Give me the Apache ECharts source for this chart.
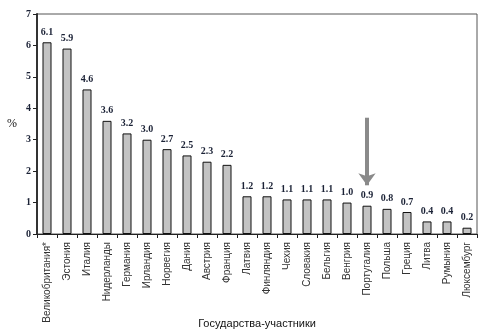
<!DOCTYPE html>
<html>
<head>
<meta charset="utf-8">
<script src="https://cdn.jsdelivr.net/npm/echarts@6/dist/echarts.min.js"></script>
<style>
html, body { margin: 0; padding: 0; background: #fff; }
#main { width: 493px; height: 330px; }
</style>
</head>
<body>
<div id="main"></div>
<script>
// страны и значения, %
var countries = ['Великобритания*', 'Эстония', 'Италия', 'Нидерланды', 'Германия', 'Ирландия',
    'Норвегия', 'Дания', 'Австрия', 'Франция', 'Латвия', 'Финляндия', 'Чехия', 'Словакия',
    'Бельгия', 'Венгрия', 'Португалия', 'Польша', 'Греция', 'Литва', 'Румыния', 'Люксембург'];
var values = [6.1, 5.9, 4.6, 3.6, 3.2, 3.0, 2.7, 2.5, 2.3, 2.2, 1.2, 1.2, 1.1, 1.1, 1.1, 1.0, 0.9, 0.8, 0.7, 0.4, 0.4, 0.2];
var yTicks = [0, 1, 2, 3, 4, 5, 6, 7];
// стрелка над Португалией
var arrowTarget = 'Португалия';
var arrowFrom = 3.7;
var arrowTo = 1.55;

var myChart = echarts.init(document.getElementById('main'));
var option = {
    animation: false,
    grid: {
        left: 37,
        right: 16,
        top: 14,
        bottom: 96,
        outerBoundsMode: 'none',
        containLabel: false,
        show: true,
        borderColor: '#555',
        borderWidth: 1
    },
    xAxis: {
        type: 'category',
        data: countries,
        name: 'Государства-участники',
        nameLocation: 'middle',
        nameGap: 84,
        nameMoveOverlap: false,
        nameTextStyle: { fontFamily: 'Liberation Sans', fontSize: 11, color: '#111' },
        axisLine: { lineStyle: { color: '#222', width: 1 } },
        axisTick: { show: true, length: 4, lineStyle: { color: '#222' } },
        axisLabel: {
            rotate: 90,
            interval: 0,
            fontFamily: 'Liberation Sans',
            fontSize: 10,
            color: '#333',
            margin: 8
        }
    },
    yAxis: {
        type: 'value',
        min: yTicks[0],
        max: yTicks[yTicks.length - 1],
        interval: 1,
        name: '%',
        nameLocation: 'middle',
        nameRotate: 0,
        nameGap: 20,
        nameTextStyle: { fontFamily: 'Liberation Serif', fontSize: 12, color: '#111' },
        splitLine: { show: false },
        axisLine: { show: true, lineStyle: { color: '#333', width: 2 } },
        axisTick: { show: true, length: 4, lineStyle: { color: '#222' } },
        axisLabel: {
            fontFamily: 'Liberation Serif',
            fontWeight: 'bold',
            fontSize: 10,
            color: '#1b2236',
            margin: 6
        }
    },
    series: [
        {
            type: 'bar',
            data: values,
            barWidth: 9,
            itemStyle: {
                color: '#c3c3c3',
                borderColor: '#111',
                borderWidth: 1
            },
            label: {
                show: true,
                position: 'top',
                distance: 5,
                fontFamily: 'Liberation Serif',
                fontWeight: 'bold',
                fontSize: 10,
                color: '#1b2236',
                formatter: function (p) { return p.value.toFixed(1); }
            },
            markLine: {
                silent: true,
                symbol: ['none', 'arrow'],
                symbolSize: [13, 12],
                label: { show: false },
                lineStyle: { color: '#8a8a8a', width: 4, type: 'solid' },
                data: [
                    [
                        { coord: [arrowTarget, arrowFrom] },
                        { coord: [arrowTarget, arrowTo] }
                    ]
                ]
            }
        }
    ]
};
myChart.setOption(option);
</script>
</body>
</html>
